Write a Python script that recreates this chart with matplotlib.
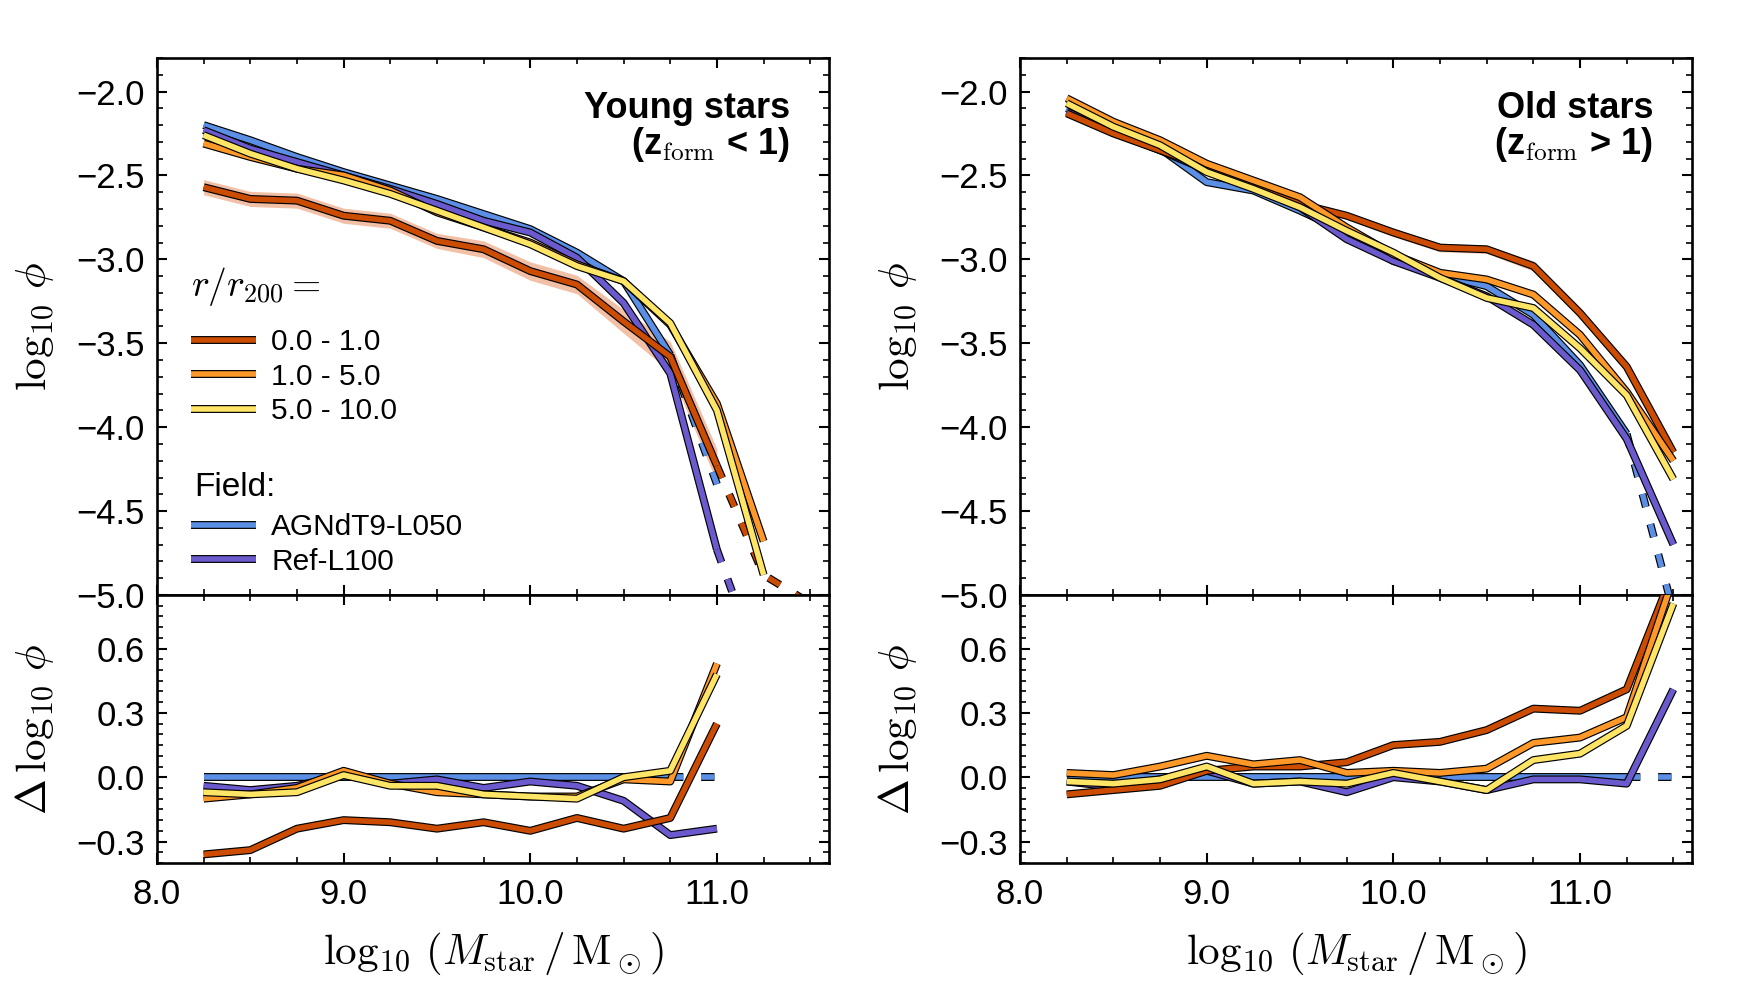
import numpy as np
import matplotlib
matplotlib.use('Agg')
import matplotlib.pyplot as plt
import matplotlib.patheffects as pe
from matplotlib.lines import Line2D
from matplotlib.ticker import MultipleLocator, FuncFormatter

plt.rcParams['font.family'] = 'sans-serif'
plt.rcParams['font.sans-serif'] = ['Liberation Sans', 'DejaVu Sans']
plt.rcParams['mathtext.fontset'] = 'cm'

# stellar mass bins (log10 Mstar / Msun)
mass_bins = [8.25, 8.5, 8.75, 9.0, 9.25, 9.5, 9.75, 10.0, 10.25, 10.5, 10.75, 11.0, 11.25, 11.5]

# ---- young stars (z_form < 1): log10 phi ----
young_r0_1 = [-2.57, -2.64, -2.65, -2.74, -2.77, -2.89, -2.94, -3.07, -3.15, -3.37, -3.58, -4.23, -4.88, -5.05]
young_r0_1_err = [0.045, 0.045, 0.045, 0.045, 0.045, 0.045, 0.05, 0.055, 0.055, 0.07, 0.09, 0.1]
young_r1_5 = [-2.31, -2.39, -2.46, -2.50, -2.59, -2.72, -2.81, -2.90, -3.03, -3.13, -3.39, -3.86, -4.68]
young_r5_10 = [-2.26, -2.37, -2.46, -2.53, -2.61, -2.71, -2.81, -2.91, -3.04, -3.13, -3.38, -3.90, -4.88]
young_agn = [-2.20, -2.29, -2.39, -2.48, -2.56, -2.64, -2.73, -2.82, -2.96, -3.13, -3.57, -4.34]
young_ref = [-2.23, -2.34, -2.42, -2.50, -2.58, -2.67, -2.77, -2.84, -2.99, -3.26, -3.68, -4.73, -5.50]
# number of well sampled bins (solid), the rest is dashed
young_solid = {'r0_1': 12, 'r1_5': 13, 'r5_10': 13, 'agn': 11, 'ref': 12}

# ---- young stars: difference to field (AGNdT9-L050) ----
young_d_r0_1 = [-0.36, -0.34, -0.24, -0.20, -0.21, -0.24, -0.21, -0.25, -0.19, -0.24, -0.19, 0.25]
young_d_r1_5 = [-0.10, -0.08, -0.05, 0.03, -0.03, -0.07, -0.08, -0.09, -0.09, -0.01, -0.02, 0.53]
young_d_r5_10 = [-0.07, -0.08, -0.07, 0.01, -0.04, -0.04, -0.08, -0.09, -0.10, 0.00, 0.03, 0.48]
young_d_agn = [0.0, 0.0, 0.0, 0.0, 0.0, 0.0, 0.0, 0.0, 0.0, 0.0, 0.0, 0.0]
young_d_ref = [-0.04, -0.06, -0.04, 0.01, -0.03, -0.01, -0.05, -0.02, -0.04, -0.11, -0.27, -0.24]

# ---- old stars (z_form > 1): log10 phi ----
old_r0_1 = [-2.13, -2.25, -2.35, -2.45, -2.56, -2.67, -2.74, -2.84, -2.93, -2.94, -3.04, -3.32, -3.64, -4.15]
old_r0_1_err = [0.02, 0.02, 0.02, 0.02, 0.02, 0.02, 0.02, 0.025, 0.025, 0.025, 0.03, 0.03, 0.035, 0.04]
old_r1_5 = [-2.04, -2.18, -2.29, -2.43, -2.53, -2.63, -2.81, -2.97, -3.08, -3.12, -3.21, -3.45, -3.79, -4.20]
old_r5_10 = [-2.07, -2.21, -2.32, -2.48, -2.58, -2.69, -2.83, -2.96, -3.11, -3.23, -3.29, -3.53, -3.81, -4.31]
old_agn = [-2.10, -2.22, -2.34, -2.54, -2.59, -2.71, -2.84, -3.01, -3.09, -3.16, -3.33, -3.63, -4.04, -5.10]
old_ref = [-2.12, -2.24, -2.35, -2.47, -2.57, -2.69, -2.88, -3.01, -3.11, -3.22, -3.39, -3.66, -4.07, -4.70]
old_solid = {'r0_1': 14, 'r1_5': 14, 'r5_10': 14, 'agn': 13, 'ref': 14}

# ---- old stars: difference to field ----
old_d_r0_1 = [-0.08, -0.06, -0.04, 0.03, 0.05, 0.05, 0.07, 0.15, 0.165, 0.22, 0.32, 0.31, 0.41, 0.96]
old_d_r1_5 = [0.02, 0.01, 0.05, 0.10, 0.06, 0.08, 0.02, 0.03, 0.02, 0.04, 0.16, 0.185, 0.28, 0.93]
old_d_r5_10 = [-0.02, -0.03, -0.01, 0.05, -0.03, -0.02, -0.03, 0.02, -0.02, -0.06, 0.08, 0.11, 0.24, 0.81]
old_d_agn = [0.0, 0.0, 0.0, 0.0, 0.0, 0.0, 0.0, 0.0, 0.0, 0.0, 0.0, 0.0, 0.0, 0.0]
old_d_ref = [-0.02, -0.045, -0.01, 0.03, -0.03, -0.02, -0.07, 0.0, -0.02, -0.06, -0.01, -0.01, -0.03, 0.41]

range_labels = ['0.0 - 1.0', '1.0 - 5.0', '5.0 - 10.0']
field_labels = ['AGNdT9-L050', 'Ref-L100']

COLORS = {'r0_1': '#cc4c02', 'r1_5': '#fe9929', 'r5_10': '#fee566',
          'agn': '#5b8fe6', 'ref': '#6a5acd'}
BAND_COLOR = '#ec9f78'
LW = 4.0


def outline(lw):
    return [pe.Stroke(linewidth=lw + 1.7, foreground='k'), pe.Normal()]


def fmt_tick(v, pos):
    return ('%.1f' % v).replace('-', '\u2212')


def draw_curve(ax, y, key, n_solid, zorder):
    x = np.asarray(mass_bins[:len(y)])
    y = np.asarray(y, dtype=float)
    ax.plot(x[:n_solid], y[:n_solid], color=COLORS[key], lw=LW,
            solid_capstyle='butt', path_effects=outline(LW), zorder=zorder)
    if n_solid < len(y):
        ax.plot(x[n_solid - 1:], y[n_solid - 1:], color=COLORS[key], lw=LW,
                dashes=(2.4, 3.2), dash_capstyle='butt',
                path_effects=outline(LW), zorder=zorder)


def draw_band(ax, y, err):
    n = len(err)
    x = np.asarray(mass_bins[:n])
    y = np.asarray(y[:n])
    err = np.asarray(err)
    ax.fill_between(x, y - err, y + err, color=BAND_COLOR, alpha=0.65, lw=0, zorder=2)


def style_axes(ax, top):
    ax.set_xlim(8.0, 11.6)
    ax.xaxis.set_major_locator(MultipleLocator(1.0))
    ax.xaxis.set_minor_locator(MultipleLocator(0.25))
    ax.xaxis.set_major_formatter(FuncFormatter(fmt_tick))
    ax.yaxis.set_major_formatter(FuncFormatter(fmt_tick))
    if top:
        ax.set_ylim(-5.0, -1.8)
        ax.yaxis.set_major_locator(MultipleLocator(0.5))
        ax.yaxis.set_minor_locator(MultipleLocator(0.1))
        ax.tick_params(labelbottom=False)
    else:
        ax.set_ylim(-0.4, 0.85)
        ax.yaxis.set_major_locator(MultipleLocator(0.3))
        ax.yaxis.set_minor_locator(MultipleLocator(0.05))
    ax.tick_params(which='both', direction='in', top=True, right=True, labelsize=25)
    ax.tick_params(which='major', length=7.5, width=1.5)
    ax.tick_params(which='minor', length=4, width=1.2)
    ax.tick_params(axis='y', pad=9)
    ax.tick_params(axis='x', pad=11)
    for sp in ax.spines.values():
        sp.set_linewidth(1.9)


fig = plt.figure(figsize=(17.44, 9.81), dpi=100)

panel_left = [0.0900, 0.5849]
panel_w = 0.3853
y_bot, y_mid, y_top = 0.1203, 0.3935, 0.9409

panels = [
    dict(top=[young_r0_1, young_r1_5, young_r5_10, young_agn, young_ref],
         err=young_r0_1_err, solid=young_solid,
         delta=[young_d_r0_1, young_d_r1_5, young_d_r5_10, young_d_agn, young_d_ref],
         title='Young stars', sub=r'(z$_\mathrm{form}$ < 1)'),
    dict(top=[old_r0_1, old_r1_5, old_r5_10, old_agn, old_ref],
         err=old_r0_1_err, solid=old_solid,
         delta=[old_d_r0_1, old_d_r1_5, old_d_r5_10, old_d_agn, old_d_ref],
         title='Old stars', sub=r'(z$_\mathrm{form}$ > 1)'),
]

keys = ['r0_1', 'r1_5', 'r5_10', 'agn', 'ref']
# drawing order: field first, then cluster ranges on top
order = {'agn': 3, 'ref': 4, 'r0_1': 5, 'r1_5': 6, 'r5_10': 7}

for i, p in enumerate(panels):
    ax_top = fig.add_axes([panel_left[i], y_mid, panel_w, y_top - y_mid])
    ax_bot = fig.add_axes([panel_left[i], y_bot, panel_w, y_mid - y_bot])

    draw_band(ax_top, p['top'][0], p['err'])
    for key, y in zip(keys, p['top']):
        draw_curve(ax_top, y, key, p['solid'][key], order[key])
    for key, y in zip(keys, p['delta']):
        draw_curve(ax_bot, y, key, min(p['solid'][key], len(y)), order[key])

    style_axes(ax_top, True)
    style_axes(ax_bot, False)

    ax_top.set_ylabel(r'$\log_{10}\,\phi$', fontsize=31)
    ax_bot.set_ylabel(r'$\Delta\,\log_{10}\,\phi$', fontsize=31)
    ax_top.yaxis.set_label_coords(-0.15, 0.5)
    ax_bot.yaxis.set_label_coords(-0.15, 0.5)
    ax_bot.set_xlabel(r'$\log_{10}\,(M_\mathrm{star}\,/\,\mathrm{M}_\odot)$', fontsize=31)
    ax_bot.xaxis.set_label_coords(0.5, -0.25)

    ax_top.text(0.942, 0.939, p['title'], transform=ax_top.transAxes, ha='right',
                va='top', fontsize=26, fontweight='bold')
    ax_top.text(0.942, 0.838, p['sub'], transform=ax_top.transAxes, ha='right',
                va='center', fontsize=26, fontweight='bold')

    if i == 0:
        ax_top.text(0.05, 0.575, r'$r/r_{200} =$', transform=ax_top.transAxes,
                    fontsize=27, va='center')
        h1 = [Line2D([], [], color=COLORS[k], lw=LW, solid_capstyle='butt',
                     path_effects=outline(LW)) for k in keys[:3]]
        leg1 = ax_top.legend(h1, range_labels, loc='upper left',
                             bbox_to_anchor=(0.05, 0.497), frameon=False,
                             fontsize=21.5, handlelength=2.2, handletextpad=0.5,
                             labelspacing=0.22, borderpad=0, borderaxespad=0)
        ax_top.add_artist(leg1)
        ax_top.text(0.056, 0.201, 'Field:', transform=ax_top.transAxes,
                    fontsize=24, va='center')
        h2 = [Line2D([], [], color=COLORS[k], lw=LW, solid_capstyle='butt',
                     path_effects=outline(LW)) for k in keys[3:]]
        ax_top.legend(h2, field_labels, loc='upper left',
                      bbox_to_anchor=(0.05, 0.152), frameon=False,
                      fontsize=21.5, handlelength=2.2, handletextpad=0.5,
                      labelspacing=0.22, borderpad=0, borderaxespad=0)

fig.savefig('out.png', dpi=100)
